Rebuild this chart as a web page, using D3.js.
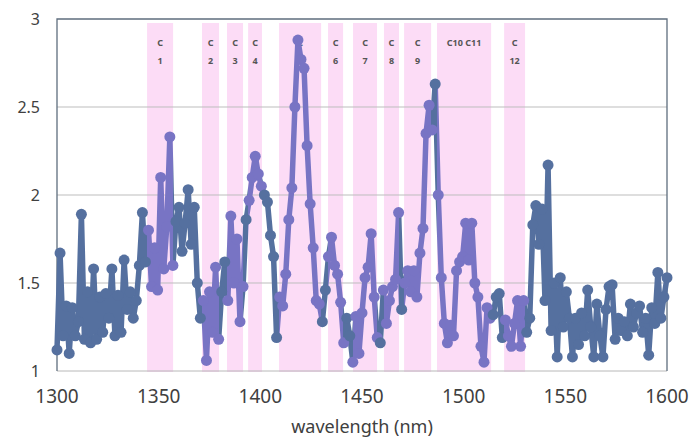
<!DOCTYPE html>
<html lang="en">
<head>
  <meta charset="UTF-8">
  <title>spectrum</title>
  <script src="https://cdn.jsdelivr.net/npm/d3@7/dist/d3.min.js"></script>
</head>
<body>
<style>
  * { padding: 0; margin: 0; }
  body { background: #fff; }
  #app { width: 689px; height: 439px; }
  text { font-family: "Noto Sans", "Open Sans", sans-serif; }
</style>

<div id="app"></div>

<script>
  let wavelength = d3.range(1300, 1600.01, 1.5);
  let signal = [
    1.12, 1.67, 1.20, 1.37, 1.10, 1.36, 1.20, 1.28, 1.89, 1.18,
    1.45, 1.16, 1.58, 1.18, 1.42, 1.22, 1.44, 1.30, 1.58, 1.20,
    1.43, 1.22, 1.63, 1.35, 1.45, 1.30, 1.40, 1.60, 1.90, 1.62,
    1.80, 1.48, 1.70, 1.46, 2.10, 1.58, 1.82, 2.33, 1.60, 1.85,
    1.93, 1.68, 1.84, 2.03, 1.72, 1.93, 1.50, 1.30, 1.40, 1.06,
    1.45, 1.22, 1.59, 1.18, 1.45, 1.62, 1.40, 1.88, 1.50, 1.75,
    1.28, 1.48, 1.86, 1.97, 2.10, 2.22, 2.12, 2.05, 2.00, 1.96,
    1.77, 1.65, 1.19, 1.42, 1.37, 1.55, 1.86, 2.04, 2.50, 2.88,
    2.77, 2.72, 2.28, 1.95, 1.70, 1.40, 1.38, 1.28, 1.46, 1.65,
    1.76, 1.60, 1.55, 1.39, 1.16, 1.30, 1.20, 1.05, 1.31, 1.10,
    1.33, 1.53, 1.59, 1.78, 1.42, 1.19, 1.16, 1.46, 1.27, 1.40,
    1.48, 1.52, 1.90, 1.35, 1.50, 1.57, 1.45, 1.57, 1.42, 1.67,
    1.81, 2.35, 2.51, 2.37, 2.63, 2.00, 1.53, 1.27, 1.16, 1.26,
    1.20, 1.57, 1.62, 1.65, 1.84, 1.63, 1.84, 1.50, 1.42, 1.14,
    1.05, 1.36, 1.30, 1.32, 1.42, 1.44, 1.19, 1.29, 1.20, 1.14,
    1.27, 1.40, 1.14, 1.40, 1.22, 1.30, 1.83, 1.94, 1.72, 1.92,
    1.40, 2.17, 1.23, 1.50, 1.08, 1.53, 1.25, 1.45, 1.30, 1.08,
    1.30, 1.15, 1.33, 1.20, 1.46, 1.25, 1.08, 1.38, 1.20, 1.08,
    1.35, 1.48, 1.49, 1.18, 1.30, 1.23, 1.28, 1.20, 1.38, 1.25,
    1.33, 1.37, 1.22, 1.30, 1.09, 1.36, 1.27, 1.56, 1.30, 1.42,
    1.53
  ];

  // highlighted bands
  let bandStart = [1344.3, 1371.3, 1383.6, 1394.0, 1409.2, 1433.3, 1445.6, 1460.8, 1470.7, 1486.9, 1519.9];
  let bandEnd   = [1357.1, 1379.7, 1391.5, 1400.8, 1429.9, 1440.7, 1457.4, 1468.2, 1484.0, 1513.5, 1530.2];
  let bandLabel = [["C", "1"], ["C", "2"], ["C", "3"], ["C", "4"], ["C", "5"], ["C", "6"],
                   ["C", "7"], ["C", "8"], ["C", "9"], ["C10 C11"], ["C", "12"]];

  let xTicks = [1300, 1350, 1400, 1450, 1500, 1550, 1600];
  let yTicks = [1, 1.5, 2, 2.5, 3];

  let $width = 689, $height = 439;
  let m = {left: 57, top: 19, right: 22, bottom: 68};
  let w = $width - m.left - m.right, h = $height - m.top - m.bottom;

  let blue = "#55709f", purple = "#7874c4";

  let svg = d3.select("#app").append("svg").attr("width", $width).attr("height", $height);
  let g = svg.append("g").attr("transform", "translate(" + m.left + "," + m.top + ")");

  let x = d3.scaleLinear().domain([1300, 1600]).range([0, w]);
  let y = d3.scaleLinear().domain([1, 3]).range([h, 0]);

  let bands = bandStart.map(function (s, i) { return {s: s, e: bandEnd[i], label: bandLabel[i]}; });

  g.selectAll("rect.band").data(bands).enter().append("rect").attr("class", "band")
    .attr("x", function (d) { return x(d.s); })
    .attr("width", function (d) { return x(d.e) - x(d.s); })
    .attr("y", 4).attr("height", h - 3)
    .attr("fill", "#fcdcf6");

  // grid
  g.selectAll("line.grid").data(yTicks.slice(1, -1)).enter().append("line").attr("class", "grid")
    .attr("x1", 0).attr("x2", w)
    .attr("y1", function (d) { return y(d); }).attr("y2", function (d) { return y(d); })
    .attr("stroke", "#bdbdbd").attr("stroke-width", 1);

  // frame
  g.append("line").attr("x1", 0).attr("x2", w).attr("y1", h).attr("y2", h).attr("stroke", "#b8b8b8");
  g.append("path").attr("d", "M0," + h + "V0H" + w + "V" + h)
    .attr("fill", "none").attr("stroke", "#5f6e7e").attr("stroke-width", 1.3);

  // band labels
  bands.forEach(function (b) {
    let cx = x((b.s + b.e) / 2);
    b.label.forEach(function (t, j) {
      g.append("text").attr("x", cx).attr("y", 27 + j * 18)
        .attr("text-anchor", "middle").attr("font-size", "9px").attr("font-weight", "bold")
        .attr("fill", "#555").text(t);
    });
  });

  let pts = wavelength.map(function (d, i) { return {w: d, v: signal[i]}; });
  function inBand(wl) {
    return bands.some(function (b) { return wl >= b.s - 0.5 && wl <= b.e + 0.5; });
  }

  // horizontal colour gradient following the bands
  let grad = svg.append("defs").append("linearGradient").attr("id", "lg")
    .attr("gradientUnits", "userSpaceOnUse").attr("x1", 0).attr("x2", w).attr("y1", 0).attr("y2", 0);
  let stops = [];
  bands.forEach(function (b) {
    let a = (x(b.s) / w), e = (x(b.e) / w);
    stops.push([a, blue], [a, purple], [e, purple], [e, blue]);
  });
  grad.selectAll("stop").data([[0, blue]].concat(stops, [[1, blue]])).enter().append("stop")
    .attr("offset", function (d) { return d[0]; }).attr("stop-color", function (d) { return d[1]; });

  let line = d3.line().x(function (d) { return x(d.w); }).y(function (d) { return y(d.v); });
  g.append("path").datum(pts).attr("d", line)
    .attr("fill", "none").attr("stroke", "url(#lg)").attr("stroke-width", 5.5)
    .attr("stroke-linejoin", "round");

  g.selectAll("circle").data(pts).enter().append("circle")
    .attr("cx", function (d) { return x(d.w); }).attr("cy", function (d) { return y(d.v); })
    .attr("r", 5.5)
    .attr("fill", function (d) { return inBand(d.w) ? purple : blue; });

  // axes labels
  g.selectAll("text.ytick").data(yTicks).enter().append("text").attr("class", "ytick")
    .attr("x", -17).attr("y", function (d) { return y(d) + 6; })
    .attr("text-anchor", "end").attr("font-size", "16px").attr("fill", "#404040")
    .text(function (d) { return d; });

  g.selectAll("text.xtick").data(xTicks).enter().append("text").attr("class", "xtick")
    .attr("x", function (d) { return x(d); }).attr("y", h + 32)
    .attr("text-anchor", "middle").attr("font-size", "19px").attr("fill", "#404040")
    .text(function (d) { return d; });

  g.append("text").attr("x", w / 2).attr("y", h + 62)
    .attr("text-anchor", "middle").attr("font-size", "18px").attr("fill", "#404040")
    .text("wavelength (nm)");
</script>
</body>
</html>
